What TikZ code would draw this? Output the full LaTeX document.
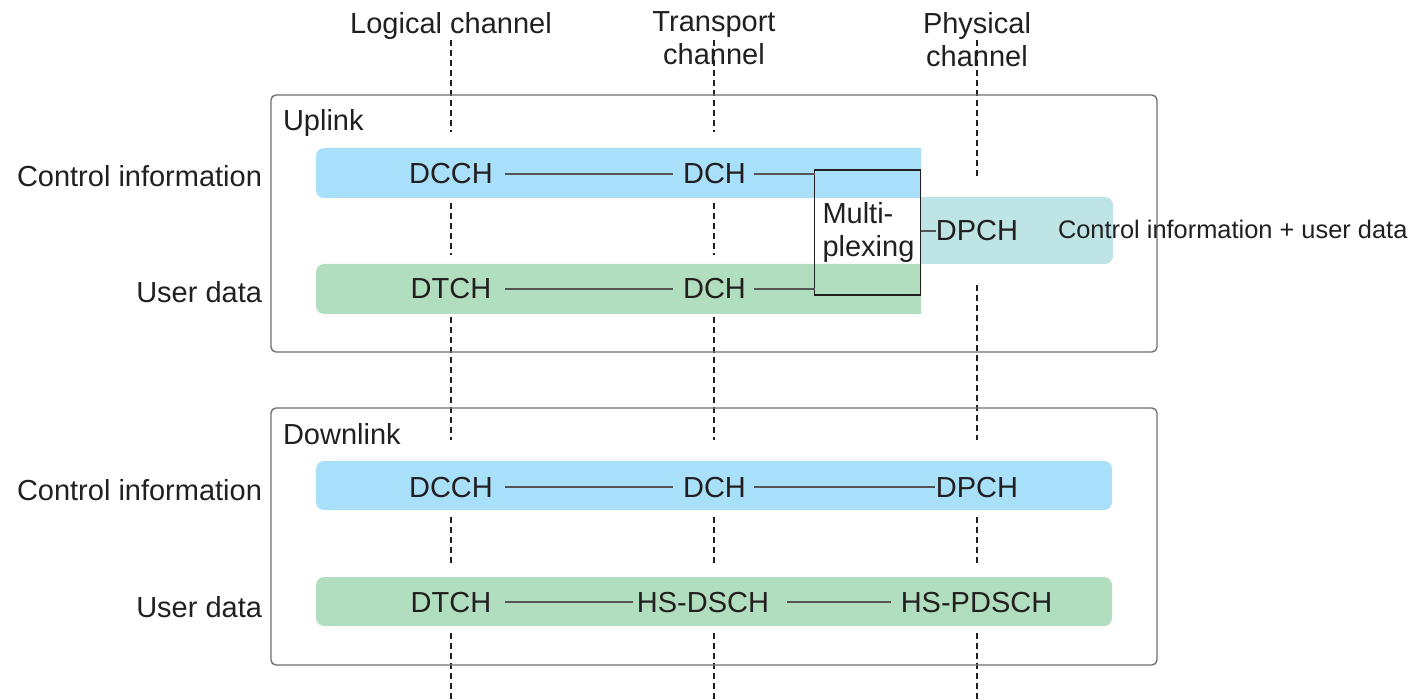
\documentclass[tikz,border=0pt]{standalone}
\usepackage{fontspec}
\setmainfont{Liberation Sans}
\definecolor{cblue}{RGB}{168,224,249}
\definecolor{cgreen}{RGB}{178,222,192}
\definecolor{cteal}{RGB}{190,228,230}
\definecolor{ctext}{RGB}{35,31,32}
\definecolor{cline}{RGB}{85,85,85}
\definecolor{cframe}{RGB}{112,112,112}
\begin{document}
\begin{tikzpicture}[x=1pt,y=-1pt,
  every node/.style={inner sep=0pt, outer sep=0pt, text=ctext, font=\fontsize{29}{33}\selectfont},
  lbl/.style={anchor=base},
  side/.style={anchor=base east},
  hdr/.style={anchor=north, align=center},
  guide/.style={draw=ctext, line width=1.1pt, dash pattern=on 6pt off 4pt},
  frame/.style={draw=cframe, line width=1.4pt, rounded corners=5pt},
  conn/.style={draw=cline, line width=1.3pt},
  bar/.style={rounded corners=8pt}
]
\useasboundingbox (0,0) rectangle (1416,700);

% guides
\foreach \gx in {451,714}{
  \foreach \ya/\yb in {40/132, 203/255, 317/440, 517/565, 633/700}
    \draw[guide] (\gx,\ya) -- (\gx,\yb);
}
\foreach \ya/\yb in {40/176, 285/440, 517/565, 633/700}
  \draw[guide] (977,\ya) -- (977,\yb);

% frames
\draw[frame] (271,95) rectangle (1157,352);
\draw[frame] (271,408) rectangle (1157,665);

% uplink bars
\begin{scope}
  \clip (921,0) rectangle (1416,700);
  \fill[cteal,bar] (880,197) rectangle (1113,264);
\end{scope}
\begin{scope}
  \clip (0,0) rectangle (921,700);
  \fill[cblue,bar] (316,148) rectangle (950,198);
  \fill[cgreen,bar] (316,264) rectangle (950,314);
\end{scope}

% downlink bars
\fill[cblue,bar] (316,461) rectangle (1112,510);
\fill[cgreen,bar] (316,577) rectangle (1112,626);

% headers
\node[hdr] (hlog) at (451,12) {Logical channel};
\node[hdr] (htra) at (714,12) {Transport\\channel};
\node[hdr] (hphy) at (977,12) {Physical\\channel};

% uplink
\node[anchor=base west] (ul) at (283,131) {Uplink};
\node[side] (uci) at (262,187) {Control information};
\node[side] (uud) at (262,303) {User data};
\node[lbl] (udcch) at (451,184) {DCCH};
\node[lbl] (udch1) at (714.5,184) {DCH};
\node[lbl] (udtch) at (451,299) {DTCH};
\node[lbl] (udch2) at (714.5,299) {DCH};
\node[draw=ctext, line width=1.3pt, minimum width=106pt, minimum height=125pt,
      align=left, text width=90pt] (mux) at (867.5,232.5) {Multi-\\plexing};
\node[lbl] (udpch) at (977,241) {DPCH};
\node[anchor=base west, font=\fontsize{25.4}{30}\selectfont] (ucu) at (1058,239) {Control information + user data};

\draw[conn, shorten <=12pt, shorten >=10pt] (udcch.east) -- (udch1.west);
\draw[conn, shorten <=14pt, shorten >=10pt] (udtch.east) -- (udch2.west);
\draw[conn, shorten <=8pt] (udch1.east) -- (udch1.east -| mux.west);
\draw[conn, shorten <=8pt] (udch2.east) -- (udch2.east -| mux.west);
\draw[conn] (mux.east |- udpch.west) -- (udpch.west);

% downlink
\node[anchor=base west] (dl) at (283,444) {Downlink};
\node[side] (dci) at (262,500) {Control information};
\node[side] (dud) at (262,617) {User data};
\node[lbl] (ddcch) at (451,497) {DCCH};
\node[lbl] (ddch) at (714.5,497) {DCH};
\node[lbl] (ddpch) at (977,497) {DPCH};
\node[lbl] (ddtch) at (451,612) {DTCH};
\node[lbl] (dhsd) at (703,612) {HS-DSCH};
\node[lbl] (dhsp) at (976.5,612) {HS-PDSCH};

\draw[conn, shorten <=12pt, shorten >=10pt] (ddcch.east) -- (ddch.west);
\draw[conn, shorten <=8pt, shorten >=1pt] (ddch.east) -- (ddpch.west);
\draw[conn, shorten <=14pt, shorten >=4pt] (ddtch.east) -- (dhsd.west);
\draw[conn, shorten <=18pt, shorten >=10pt] (dhsd.east) -- (dhsp.west);
\end{tikzpicture}
\end{document}
